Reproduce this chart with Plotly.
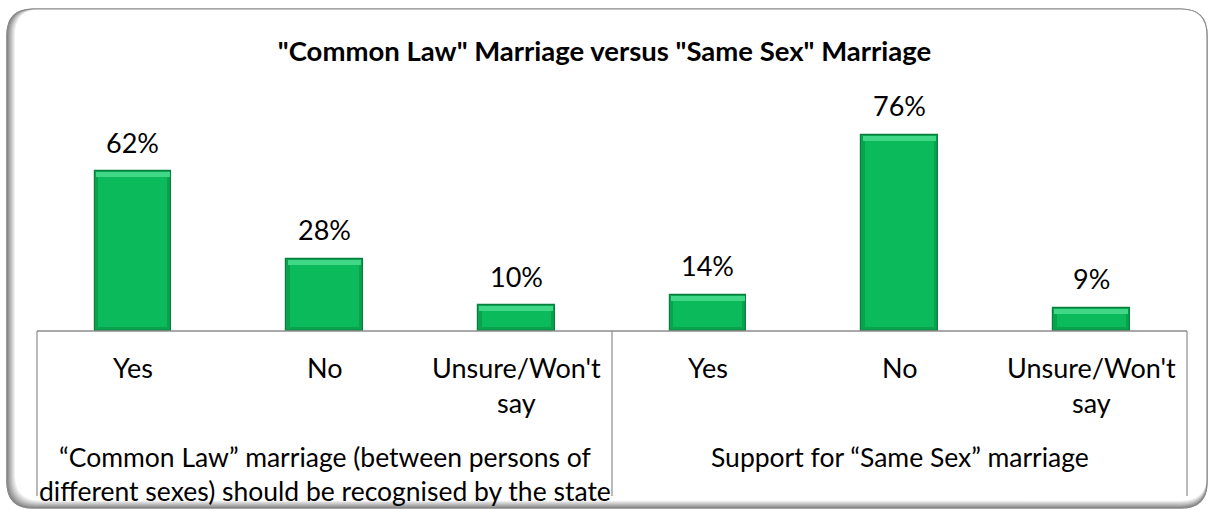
import plotly.graph_objects as go

# Survey results
groups = [
    "“Common Law” marriage (between persons of<br>different sexes) should be recognised by the state",
    "Support for “Same Sex” marriage",
]
answers = ["Yes", "No", "Unsure/Won't<br>say", "Yes", "No", "Unsure/Won't<br>say"]
values = [62, 28, 10, 14, 76, 9]
value_labels = ["62%", "28%", "10%", "14%", "76%", "9%"]
title_text = '"Common Law" Marriage versus "Same Sex" Marriage'

W, H = 1209, 510
ML, MR, MT, MB = 37, 22, 60, 179
PW, PH = W - ML - MR, H - MT - MB
FONT = "Lato"
PX_PER_UNIT = 2.58

def px(x):
    return (x - ML) / PW

def py(y):
    return (MT + PH - y) / PH

def rounded_rect(x0, y0, x1, y1, r):
    pts = [
        ("M", [(x0 + r, y0)]),
        ("L", [(x1 - r, y0)]),
        ("Q", [(x1, y0), (x1, y0 + r)]),
        ("L", [(x1, y1 - r)]),
        ("Q", [(x1, y1), (x1 - r, y1)]),
        ("L", [(x0 + r, y1)]),
        ("Q", [(x0, y1), (x0, y1 - r)]),
        ("L", [(x0, y0 + r)]),
        ("Q", [(x0, y0), (x0 + r, y0)]),
    ]
    s = ""
    for cmd, ps in pts:
        s += cmd + " " + " ".join(f"{px(a):.5f},{py(b):.5f}" for a, b in ps) + " "
    return s + "Z"

xs = list(range(len(values)))
top_bevel = 2.4
foot = 1.4

fig = go.Figure()
# bar body (darker edges)
fig.add_trace(go.Bar(
    x=xs, y=values, width=0.4,
    marker=dict(color="#0aa24f", line=dict(color="#087f3c", width=1.2)),
    hoverinfo="skip", showlegend=False,
))
# bar face
fig.add_trace(go.Bar(
    x=xs, y=[v - top_bevel - foot for v in values], base=[foot] * len(values), width=0.36,
    marker=dict(color="#0bba5b", line=dict(width=0)),
    hoverinfo="skip", showlegend=False,
))
# bevel highlight on top of each bar
fig.add_trace(go.Bar(
    x=xs, y=[top_bevel - 0.4] * len(values), base=[v - top_bevel for v in values], width=0.385,
    marker=dict(color="#40d887", line=dict(width=0)),
    hoverinfo="skip", showlegend=False,
))

shapes = []
# frame with soft shadow on the left and bottom
n = 9
for i in range(n):
    c = int(0x8a + (0xff - 0x8a) * i / (n - 1))
    shapes.append(dict(
        type="path", xref="paper", yref="paper", layer="below",
        path=rounded_rect(7 + i, 9, 1207, 508 - i * 0.9, 26),
        fillcolor=f"rgb({c},{c},{c})",
        line=dict(color="#7f7f7f" if i == 0 else f"rgb({c},{c},{c})", width=1.2 if i == 0 else 0),
    ))
shapes.append(dict(
    type="path", xref="paper", yref="paper", layer="below",
    path=rounded_rect(7, 9, 1207, 508, 26),
    fillcolor="rgba(0,0,0,0)", line=dict(color="#8c8c8c", width=1.2),
))

# category axis line and group dividers
shapes.append(dict(type="line", xref="paper", yref="paper",
                   x0=0, x1=1, y0=0, y1=0, line=dict(color="#8c8c8c", width=1.5)))
for xd in [0, 0.5, 1]:
    shapes.append(dict(type="line", xref="paper", yref="paper",
                       x0=xd, x1=xd, y0=0, y1=py(496), line=dict(color="#8c8c8c", width=1.2)))

annotations = []
for x, v, lab in zip(xs, values, value_labels):
    annotations.append(dict(x=x, y=v, xref="x", yref="y", text=lab, showarrow=False,
                            yanchor="middle", yshift=29,
                            font=dict(family=FONT, size=27, color="#000")))
for x, a in zip(xs, answers):
    annotations.append(dict(x=x, y=py(349), xref="x", yref="paper", text=a,
                            showarrow=False, yanchor="top", align="center",
                            font=dict(family=FONT, size=27, color="#000")))
for gi, g in enumerate(groups):
    annotations.append(dict(x=gi * 3 + 1, y=py(439), xref="x", yref="paper",
                            text=g, showarrow=False, yanchor="top", align="center",
                            font=dict(family=FONT, size=26.5, color="#000")))

fig.update_layout(
    width=W, height=H,
    margin=dict(l=ML, r=MR, t=MT, b=MB),
    paper_bgcolor="white", plot_bgcolor="rgba(0,0,0,0)",
    barmode="overlay", bargap=0,
    title=dict(text=f"<b>{title_text}</b>", x=0.5, xanchor="center",
               y=1 - 51 / H, yanchor="middle",
               font=dict(family=FONT, size=27.5, color="#000")),
    xaxis=dict(range=[-0.5, 5.5], showticklabels=False, showgrid=False,
               zeroline=False, showline=False, ticks=""),
    yaxis=dict(range=[0, PH / PX_PER_UNIT], visible=False, showgrid=False, zeroline=False),
    shapes=shapes, annotations=annotations,
)

fig.write_html("out.html")
